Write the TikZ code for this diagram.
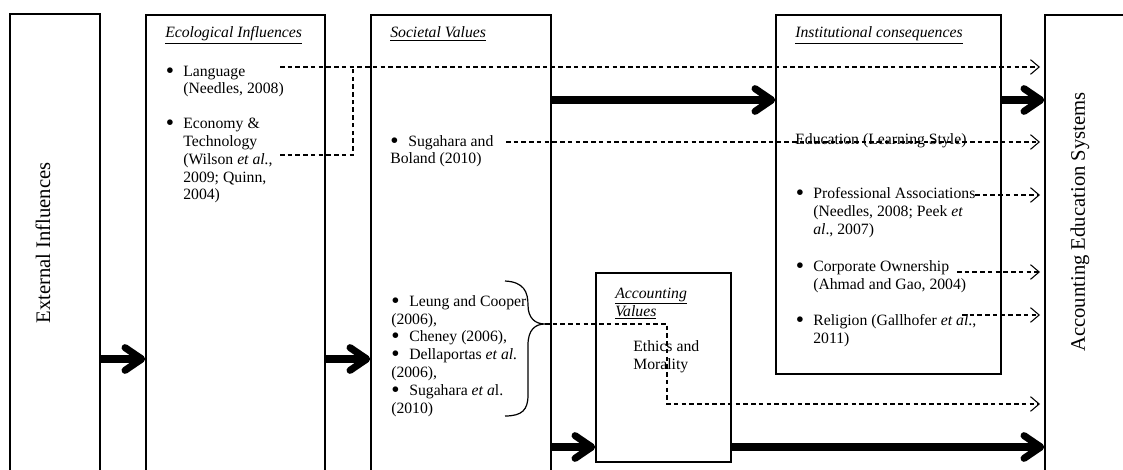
\documentclass[tikz,border=0pt]{standalone}
\usepackage{fontspec}
\usepackage{graphicx}
\setmainfont{Liberation Serif}
\usetikzlibrary{arrows.meta,fit}

% a larger list bullet
\newcommand\bigbul{\raisebox{-0.12em}{\scalebox{1.5}{\textbullet}}}
% bullet hanging to the left of an indented list entry
\newcommand\hbul{\llap{\bigbul\hspace{6.8pt}}}
% bullet in a fixed-width box for flush-left list entries
\newcommand\sbul{\makebox[13.5pt][l]{\bigbul}}
\newcommand\bodyfont{\fontsize{11.8pt}{13.35pt}\selectfont}

\tikzset{
  box/.style={draw, line width=1.1pt, inner sep=0pt},
  bigarrow/.style={line width=5.3pt,
    -{Straight Barb[length=12.5pt,width=17pt,round]}},
  link/.style={line width=0.8pt, dash pattern=on 3.4pt off 2.4pt},
  dlink/.style={link, -{Straight Barb[length=6.5pt,width=11pt]}},
  % text blocks are placed by the baseline of their last line
  txt/.style={anchor=base west, inner sep=0pt, align=left, font=\bodyfont},
  sidelabel/.style={inner sep=0pt, rotate=90, font=\fontsize{15.5pt}{18pt}\selectfont},
}

\begin{document}
\begin{tikzpicture}[x=0.75pt, y=-0.75pt]
\useasboundingbox (0,0) rectangle (1123,470);

% ---- main column boxes ----
\node[box, fit={(10,14) (100,495)}] (ext) {};
\node[box, fit={(146,15) (325,495)}] (eco) {};
\node[box, fit={(371,15) (551,495)}] (soc) {};
\node[box, fit={(776,15) (1001,374)}] (inst) {};
\node[box, fit={(596,273) (731,462)}] (av) {};
\node[box, fit={(1045,15) (1145,495)}] (aes) {};

% ---- side labels ----
\node[sidelabel] (extlbl) at (43,243) {External Influences};
\node[sidelabel] (aeslbl) at (1080,222) {Accounting Education Systems};

% ---- Ecological Influences ----
\node[txt] (ecot) at (165,38) {\underline{\textit{Ecological Influences}}};
\node[txt] (lang) at (183,94) {\hbul Language\\(Needles, 2008)};
\node[txt] (econ) at (183,200) {\hbul Economy \&\\Technology\\(Wilson \textit{et al.},\\2009; Quinn,\\2004)};

% ---- Societal Values ----
\node[txt] (soct) at (390,38) {\underline{\textit{Societal Values}}};
\node[txt] (sug) at (390,164) {\sbul Sugahara and\\Boland (2010)};
\node[txt] (refs) at (391,413) {\sbul Leung and Cooper\\(2006),\\\sbul Cheney (2006),\\\sbul Dellaportas \textit{et al.}\\(2006),\\\sbul Sugahara \textit{et a}l.\\(2010)};

% ---- Institutional consequences ----
\node[txt] (instt) at (795,38) {\underline{\textit{Institutional consequences}}};
\node[txt] (edu) at (795,145) {Education (Learning Style)};
\node[txt] (prof) at (813,234) {\hbul Professional Associations\\(Needles, 2008; Peek \textit{et}\\\textit{al}., 2007)};
\node[txt] (corp) at (813,289) {\hbul Corporate Ownership\\(Ahmad and Gao, 2004)};
\node[txt] (rel) at (813,343) {\hbul Religion (Gallhofer \textit{et al}.,\\2011)};

% ---- Accounting Values ----
\node[txt] (avt) at (615,316) {\underline{\textit{Accounting}}\\\underline{\textit{Values}}};
\node[txt] (eth) at (633,369) {Ethics and\\Morality};

% ---- brace grouping the references ----
\coordinate (btip) at (545,324);
\draw[line width=0.9pt] (505,281) .. controls (524,282) and (528,292) .. (528,305)
  .. controls (528,318) and (535,324) .. (btip)
  .. controls (535,324) and (528,330) .. (528,345) -- (528,395)
  .. controls (528,410) and (522,416) .. (505,416);

% ---- levels of the main flows ----
\coordinate (yLow) at (0,359);
\coordinate (yTop) at (0,100);
\coordinate (yBot) at (0,447);
\draw[bigarrow] (ext.east |- yLow) -- (eco.west |- yLow);
\draw[bigarrow] (eco.east |- yLow) -- (soc.west |- yLow);
\draw[bigarrow] (soc.east |- yTop) -- (inst.west |- yTop);
\draw[bigarrow] (inst.east |- yTop) -- (aes.west |- yTop);
\draw[bigarrow] (soc.east |- yBot) -- (av.west |- yBot);
\draw[bigarrow] (av.east |- yBot) -- (aes.west |- yBot);

% ---- dashed influence links ----
\coordinate (langEnd) at (280,67);
\coordinate (econEnd) at (280,155);
\coordinate (join) at (353,67);
\coordinate (sugEnd) at (506,142);
\coordinate (profEnd) at (975,195);
\coordinate (corpEnd) at (957,272);
\coordinate (relEnd) at (962,315);
\coordinate (bend1) at (667,324);
\coordinate (bend2) at (667,404);

\coordinate (in1) at (1040,67);
\coordinate (in2) at (1040,142);
\coordinate (in3) at (1040,195);
\coordinate (in4) at (1040,272);
\coordinate (in5) at (1040,315);
\coordinate (in6) at (1040,404);

\draw[link] (econEnd) -| (join);
\draw[dlink] (langEnd) -- (in1);
\draw[dlink] (sugEnd) -- (in2);
\draw[dlink] (profEnd) -- (in3);
\draw[dlink] (corpEnd) -- (in4);
\draw[dlink] (relEnd) -- (in5);
\draw[dlink] (btip) -- (bend1) -- (bend2) -- (in6);
\end{tikzpicture}
\end{document}
